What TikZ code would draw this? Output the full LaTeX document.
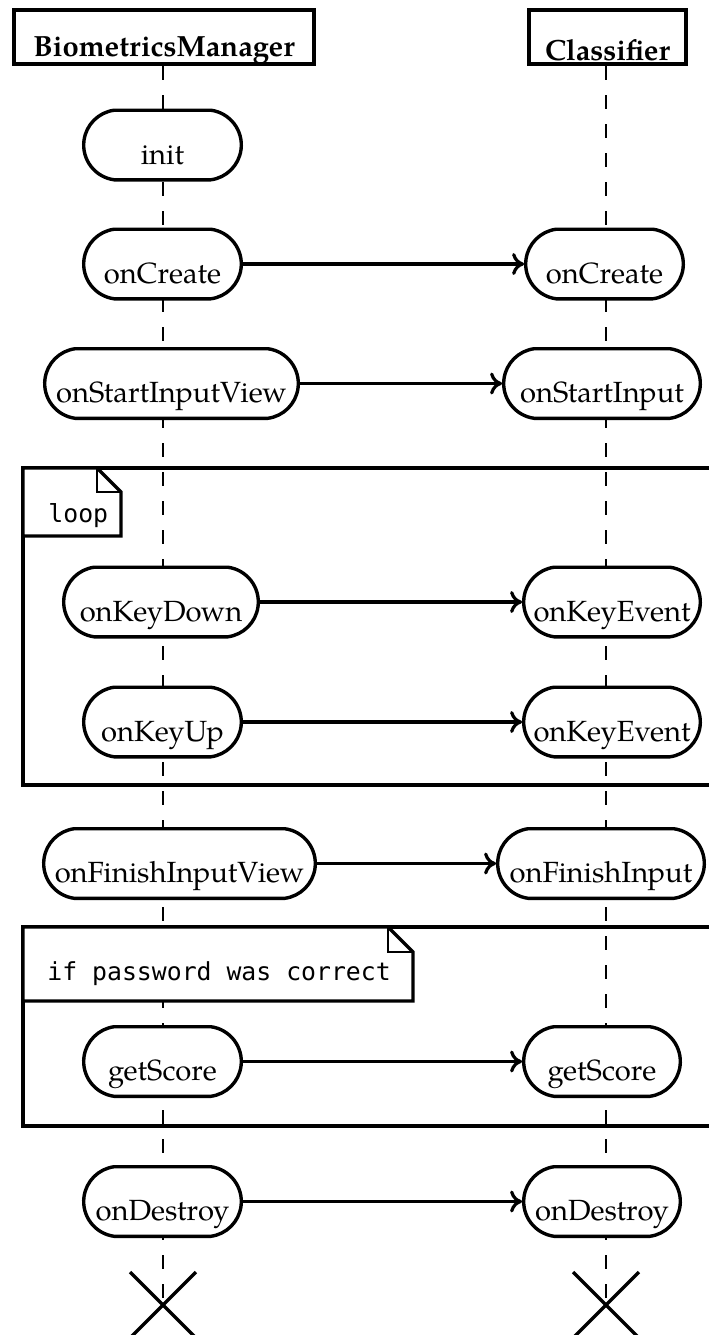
\documentclass[tikz,border=0pt]{standalone}
\usepackage{fontspec}
\setmainfont{TeX Gyre Pagella}
\newfontfamily\codefont{DejaVu Sans Mono}
\usetikzlibrary{arrows.meta,calc}

\begin{document}
\begin{tikzpicture}[x=0.5pt,y=-0.5pt,
  every node/.style={font=\fontsize{14.6}{17}\selectfont},
  actor/.style={draw, line width=1.9pt, fill=white, inner sep=0pt,
    minimum height=27.1pt, font=\fontsize{14.6}{17}\selectfont\bfseries},
  call/.style={rectangle, fill=white, outer sep=0pt,
    minimum width=78.8pt, inner xsep=2pt, inner ysep=0pt,
    text height=26.9pt, text depth=7.9pt},
  outline/.style={line width=1.7pt},
  msg/.style={line width=1.6pt, shorten >=0.8pt, shorten <=0.8pt,
    -{Computer Modern Rightarrow[length=6pt,width=11pt]}},
  life/.style={line width=0.8pt, dash pattern=on 7pt off 7.5pt},
  frame/.style={line width=1.7pt},
  framelabel/.style={line width=1.7pt, fill=white},
  dogear/.style={line width=0.7pt},
  framecaption/.style={anchor=base west, inner sep=0pt,
    font=\codefont\fontsize{12.4}{14}\selectfont},
  xmark/.style={line width=1.7pt},
]
\useasboundingbox (0,0) rectangle (708,1335);

% participants
\node[actor, minimum width=150.1pt, text height=23.1pt, text depth=4pt]
  (bm) at (164,37) {BiometricsManager};
\node[actor, minimum width=78.6pt, text height=25.1pt, text depth=2pt]
  (cl) at (607.5,37) {Classifier};

% lifeline ends
\coordinate (bmend) at (163,1305);
\coordinate (clend) at (606,1305);

\draw[life] (bmend |- bm.south) -- (bmend);
\draw[life] (clend |- cl.south) -- (clend);

% combined fragments
\draw[frame] (23,468) rectangle (712,785);
\draw[framelabel] (23,468) -- (97,468) -- (121,492) -- (121,536) -- (23,536) -- cycle;
\draw[dogear] (97,468) |- (121,492);
\node[framecaption] (looptag) at (48,522) {loop};

\draw[frame] (23,927) rectangle (712,1126);
\draw[framelabel] (23,927) -- (388,927) -- (413,952) -- (413,1001) -- (23,1001) -- cycle;
\draw[dogear] (388,927) |- (413,952);
\node[framecaption] (iftag) at (47,980) {if password was correct};

% activations of BiometricsManager
\node[call] (init)  at (162.5,145)   {init};
\node[call] (bcre)  at (162.5,264)   {onCreate};
\node[call, minimum width=126.8pt] (bstart) at (171.5,383.5) {onStartInputView};
\node[call, minimum width=97.3pt] (bdown) at (161,602) {onKeyDown};
\node[call] (bup)   at (162.5,722)   {onKeyUp};
\node[call, minimum width=135.8pt] (bfin) at (179.5,863.5) {onFinishInputView};
\node[call] (bscore) at (162.5,1061.5) {getScore};
\node[call] (bdes)  at (162.5,1201.5) {onDestroy};

% activations of Classifier
\node[call] (ccre)  at (604.5,264)   {onCreate};
\node[call, minimum width=98.3pt] (cstart) at (602,383.5) {onStartInput};
\node[call, minimum width=88.3pt] (ckey1) at (612,602) {onKeyEvent};
\node[call, minimum width=88.3pt] (ckey2) at (612,722) {onKeyEvent};
\node[call, minimum width=103.3pt] (cfin) at (601,863.5) {onFinishInput};
\node[call, minimum width=78.3pt] (cscore) at (602,1061.5) {getScore};
\node[call, minimum width=78.3pt] (cdes) at (602,1201.5) {onDestroy};

% stadium outlines: straight top and bottom, shallow circular ends
\foreach \n in {init,bcre,bstart,bdown,bup,bfin,bscore,bdes,
                ccre,cstart,ckey1,ckey2,cfin,cscore,cdes}{
  \draw[outline] ($(\n.north west)+(30.5,0)$) -- ($(\n.north east)+(-30.5,0)$)
    arc[start angle=82.5, end angle=-82.5, radius=17.55pt]
    -- ($(\n.south west)+(30.5,0)$)
    arc[start angle=262.5, end angle=97.5, radius=17.55pt]
    -- cycle;
}

% messages
\draw[msg] (bcre.east)   -- (ccre.west);
\draw[msg] (bstart.east) -- (cstart.west);
\draw[msg] (bdown.east)  -- (ckey1.west);
\draw[msg] (bup.east)    -- (ckey2.west);
\draw[msg] (bfin.east)   -- (cfin.west);
\draw[msg] (bscore.east) -- (cscore.west);
\draw[msg] (bdes.east)   -- (cdes.west);

% destruction marks
\draw[xmark] (bmend) +(-33,-33) -- +(33,33);
\draw[xmark] (bmend) +(-33,33) -- +(33,-33);
\draw[xmark] (clend) +(-33,-33) -- +(33,33);
\draw[xmark] (clend) +(-33,33) -- +(33,-33);
\end{tikzpicture}
\end{document}
